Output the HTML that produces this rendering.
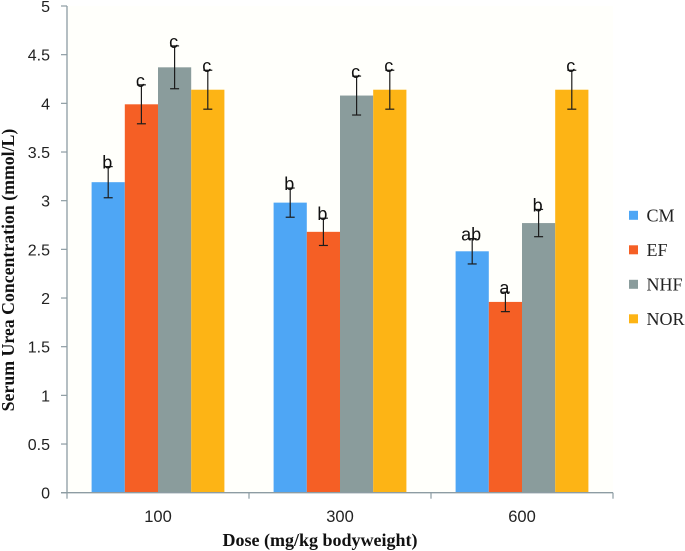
<!DOCTYPE html>
<html>
<head>
<meta charset="utf-8">
<title>Serum Urea Concentration</title>
<style>
html,body{margin:0;padding:0;background:#fff;width:685px;height:551px;overflow:hidden}
svg{display:block}
</style>
</head>
<body>
<svg id="chart" xmlns="http://www.w3.org/2000/svg" width="685" height="551" viewBox="0 0 685 551">
<rect x="67" y="6" width="546" height="487" fill="#fffffb"/>
<text transform="translate(14,270) rotate(-90)" text-anchor="middle" font-family="'Liberation Serif',serif" font-weight="bold" font-size="17.8" fill="#111">Serum Urea Concentration (mmol/L)</text>
<text x="320" y="546" text-anchor="middle" font-family="'Liberation Serif',serif" font-weight="bold" font-size="18" fill="#111">Dose (mg/kg bodyweight)</text>
</svg>
<script>
const categories = ['100', '300', '600'];
const seriesNames = ['CM', 'EF', 'NHF', 'NOR'];
const seriesColors = ['#4ea6f5', '#f55f25', '#8a9c9c', '#fdb415'];
const valuesCM = [3.19, 2.98, 2.48];
const valuesEF = [3.99, 2.68, 1.96];
const valuesNHF = [4.37, 4.08, 2.77];
const valuesNOR = [4.14, 4.14, 4.14];
const errorsCM = [0.16, 0.15, 0.13];
const errorsEF = [0.20, 0.14, 0.10];
const errorsNHF = [0.22, 0.20, 0.14];
const errorsNOR = [0.20, 0.20, 0.20];
const lettersCM = ['b', 'b', 'ab'];
const lettersEF = ['c', 'b', 'a'];
const lettersNHF = ['c', 'c', 'b'];
const lettersNOR = ['c', 'c', 'c'];
const yTicks = [0, 0.5, 1, 1.5, 2, 2.5, 3, 3.5, 4, 4.5, 5];

const allValues = [valuesCM, valuesEF, valuesNHF, valuesNOR];
const allErrors = [errorsCM, errorsEF, errorsNHF, errorsNOR];
const allLetters = [lettersCM, lettersEF, lettersNHF, lettersNOR];

const svg = document.getElementById('chart');
const NS = 'http://www.w3.org/2000/svg';
const left = 67, step = 182, y0 = 492.7, y5 = 6, barW = 33.2;
const axisColor = '#8d9ca3';
const sans = "'Liberation Sans',sans-serif";

function yScale(v) { return y0 - (v / 5) * (y0 - y5); }
function groupCenter(i) { return left + step * (i + 0.5); }
function barX(i, s) { return groupCenter(i) - 2 * barW + s * barW; }

function make(tag, attrs, text) {
  const el = document.createElementNS(NS, tag);
  for (const k in attrs) el.setAttribute(k, attrs[k]);
  if (text !== undefined) el.textContent = text;
  svg.appendChild(el);
  return el;
}

// bars
allValues.forEach(function (vals, s) {
  vals.forEach(function (v, i) {
    const b = make('rect', { x: barX(i, s), y: yScale(v), width: barW, height: y0 - yScale(v), fill: seriesColors[s] });
    
    
  });
});

// axes
const yLine = make('line', { x1: left, x2: left, y1: y5, y2: y0, stroke: axisColor, 'stroke-width': 1.3 });


const xLine = make('line', { x1: left - 6, x2: left + step * categories.length, y1: y0, y2: y0, stroke: axisColor, 'stroke-width': 1.3 });



yTicks.forEach(function (t) {
  const m = make('line', { x1: left - 6, x2: left, y1: yScale(t), y2: yScale(t), stroke: axisColor, 'stroke-width': 1.2 });
  
  
  const l = make('text', { x: 50, y: yScale(t) + 6, 'text-anchor': 'end', 'font-family': sans, 'font-size': 16, fill: '#222' }, String(t));
  
  
});

for (let i = 0; i <= categories.length; i++) {
  const m = make('line', { x1: left + step * i, x2: left + step * i, y1: y0, y2: y0 + 6, stroke: axisColor, 'stroke-width': 1.2 });
  
  
}

categories.forEach(function (c, i) {
  const l = make('text', { x: groupCenter(i), y: 522, 'text-anchor': 'middle', 'font-family': sans, 'font-size': 16.5, fill: '#222' }, c);
  
  
});

// error bars and significance letters
allValues.forEach(function (vals, s) {
  vals.forEach(function (v, i) {
    const cx = barX(i, s) + barW / 2;
    const top = yScale(v + allErrors[s][i]);
    const bottom = yScale(v - allErrors[s][i]);
    const stem = make('line', { x1: cx, x2: cx, y1: top, y2: bottom, stroke: '#1c1c1c', 'stroke-width': 1.2 });
    
    
    [top, bottom].forEach(function (yy) {
      const cap = make('line', { x1: cx - 4.5, x2: cx + 4.5, y1: yy, y2: yy, stroke: '#1c1c1c', 'stroke-width': 1.2 });
      
      
    });
    const t = make('text', { x: cx - 1, y: top + 2, 'text-anchor': 'middle', 'font-family': sans, 'font-size': 18, fill: '#111' }, allLetters[s][i]);
    
    
  });
});

// legend
seriesNames.forEach(function (n, s) {
  const yy = 215.3 + s * 34.5;
  const swatch = make('rect', { x: 629, y: yy - 4.5, width: 9, height: 9, fill: seriesColors[s] });
  
  
  const label = make('text', { x: 646.5, y: yy + 6.3, 'font-family': "'Liberation Serif',serif", 'font-size': 18, fill: '#222' }, n);
  
  
});
</script>
</body>
</html>
